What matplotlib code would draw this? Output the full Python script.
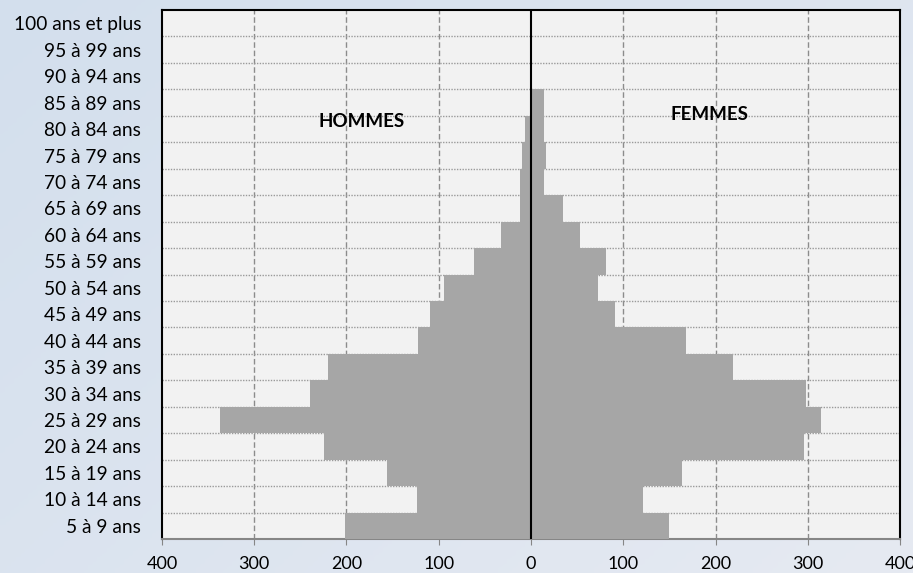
import matplotlib.pyplot as plt
import numpy as np
from matplotlib.ticker import FuncFormatter

# age groups, bottom to top
ages = ['5 à 9 ans', '10 à 14 ans', '15 à 19 ans', '20 à 24 ans', '25 à 29 ans',
        '30 à 34 ans', '35 à 39 ans', '40 à 44 ans', '45 à 49 ans', '50 à 54 ans',
        '55 à 59 ans', '60 à 64 ans', '65 à 69 ans', '70 à 74 ans', '75 à 79 ans',
        '80 à 84 ans', '85 à 89 ans', '90 à 94 ans', '95 à 99 ans', '100 ans et plus']
hommes = [202, 124, 156, 224, 337, 240, 220, 122, 110, 94,
          62, 33, 12, 12, 10, 6, 1.5, 0, 1, 0]
femmes = [150, 121, 164, 296, 314, 298, 219, 168, 91, 73,
          81, 53, 35, 14.5, 16, 14.5, 14.5, 0, 0, 0]
xticks = [-400, -300, -200, -100, 0, 100, 200, 300, 400]

plt.rcParams['font.family'] = ['Lato', 'DejaVu Sans']

fig = plt.figure(figsize=(9.13, 5.73), dpi=100)

# light blue gradient background
bg = fig.add_axes([0, 0, 1, 1], zorder=-10)
gx, gy = np.meshgrid(np.linspace(0, 1, 200), np.linspace(0, 1, 200))
grad = 0.6 * gx + 0.4 * gy
bg.imshow(grad, cmap=plt.matplotlib.colors.LinearSegmentedColormap.from_list(
    'bgc', ['#d3dfed', '#e6eaf2']), aspect='auto', extent=[0, 1, 0, 1])
bg.axis('off')

ax = fig.add_axes([0.1774, 0.0593, 0.8084, 0.9232])
ax.set_facecolor('#f2f2f2')

y = np.arange(len(ages))
ax.barh(y, [-v for v in hommes], height=1.0, color='#a6a6a6', zorder=3)
ax.barh(y, femmes, height=1.0, color='#a6a6a6', zorder=3)

# grid: dashed verticals, dotted horizontals between groups
for xv in xticks[1:-1]:
    if xv != 0:
        ax.axvline(xv, color='#8c8c8c', lw=1, ls=(0, (4, 2)), zorder=1)
for yb in np.arange(0.5, len(ages) - 0.5, 1):
    ax.axhline(yb, color='#9a9a9a', lw=1, ls=(0, (1, 1)), zorder=1)
ax.axvline(0, color='black', lw=1.5, zorder=4)

ax.set_xlim(-400, 400)
ax.set_ylim(-0.5, len(ages) - 0.5)
ax.set_xticks(xticks)
ax.xaxis.set_major_formatter(FuncFormatter(lambda v, p: f'{abs(int(v))}'))
ax.set_yticks(y)
ax.set_yticklabels(ages)
ax.tick_params(axis='y', length=0, labelsize=13.8, pad=15)
ax.tick_params(axis='x', length=4, color='#868686', labelsize=13, pad=8)

for s in ['left', 'right', 'top']:
    ax.spines[s].set_color('black')
    ax.spines[s].set_linewidth(1.5)
ax.spines['bottom'].set_color('#868686')
ax.spines['bottom'].set_linewidth(1.5)

ax.text(-184, 15.3, 'HOMMES', ha='center', va='center', fontsize=13.5,
        fontweight='bold', zorder=5)
ax.text(193, 15.55, 'FEMMES', ha='center', va='center', fontsize=13.5,
        fontweight='bold', zorder=5)

fig.savefig('out.png', dpi=100)
